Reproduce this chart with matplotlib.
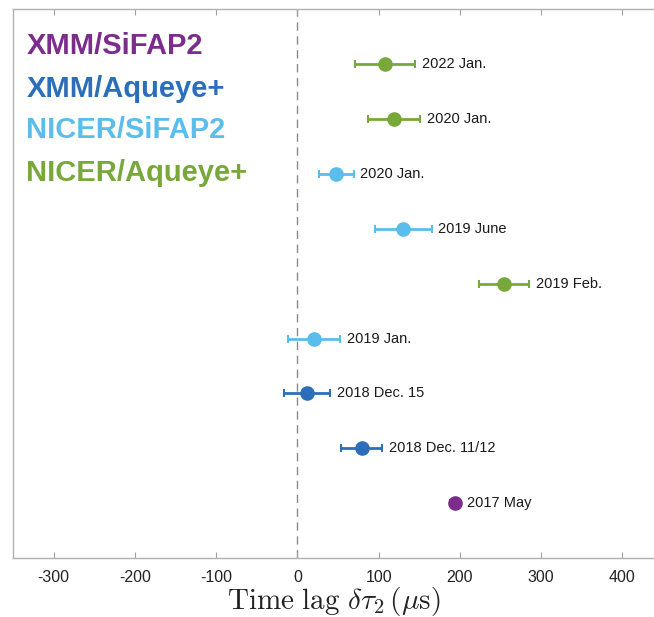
import matplotlib
matplotlib.use("Agg")
import matplotlib.pyplot as plt

# observation epochs, bottom to top
epochs  = ["2017 May", "2018 Dec. 11/12", "2018 Dec. 15", "2019 Jan.", "2019 Feb.",
           "2019 June", "2020 Jan.", "2020 Jan.", "2022 Jan."]
lags    = [194, 79, 12, 20, 254, 130, 48, 119, 108]
errs    = [6, 25, 28, 32, 31, 35, 21, 32, 37]
groups  = ["XMM/SiFAP2", "XMM/Aqueye+", "XMM/Aqueye+", "NICER/SiFAP2", "NICER/Aqueye+",
           "NICER/SiFAP2", "NICER/SiFAP2", "NICER/Aqueye+", "NICER/Aqueye+"]
group_names = ["XMM/SiFAP2", "XMM/Aqueye+", "NICER/SiFAP2", "NICER/Aqueye+"]
xticks  = [-300, -200, -100, 0, 100, 200, 300, 400]

colors = {"XMM/SiFAP2": "#7b2c8c", "XMM/Aqueye+": "#2b6fba",
          "NICER/SiFAP2": "#5bbdeb", "NICER/Aqueye+": "#78a83a"}

plt.rcParams["font.family"] = ["Liberation Sans", "DejaVu Sans"]
plt.rcParams["mathtext.fontset"] = "cm"

fig = plt.figure(figsize=(6.54, 6.17), dpi=100)
ax = fig.add_axes([13/654, 59/617, 642/654, 548.7/617])

ax.axvline(0, color="#8a8a8a", linestyle=(0, (6, 4)), linewidth=1.0, zorder=1)

for i, (lab, x, e, g) in enumerate(zip(epochs, lags, errs, groups)):
    y = i + 1
    ax.errorbar(x, y, xerr=e, fmt="o", color=colors[g], ecolor=colors[g],
                markersize=9.5, elinewidth=2, capsize=3, capthick=1.5, zorder=3)
    ax.annotate(lab, xy=(max(x + e, x + 6), y), xytext=(5, 0), textcoords="offset points",
                ha="left", va="center", fontsize=10.5, color="#1a1a1a")

leg_y = [0.919, 0.841, 0.765, 0.687]
for name, yy in zip(group_names, leg_y):
    ax.text(0.021, yy, name, transform=ax.transAxes, color=colors[name],
            fontsize=21, fontweight="bold", ha="left", va="baseline")

ax.set_xlim(-350, 440)
ax.set_ylim(0, 10)
ax.set_xticks(xticks)
ax.set_xticklabels([str(t) for t in xticks])
ax.set_yticks([])
ax.tick_params(axis="x", direction="in", length=4, color="#a0a0a0", top=True,
               labelsize=11.5, labelcolor="#222222", pad=9)
for s in ax.spines.values():
    s.set_color("#b0b0b0")
    s.set_linewidth(1.0)
ax.spines["right"].set_visible(False)

ax.set_xlabel(r"$\mathrm{Time\ lag}\ \delta\tau_2\,(\mu\mathrm{s})$", fontsize=21,
              color="#222222", labelpad=0)

plt.savefig("out.png", dpi=100)
plt.close()
